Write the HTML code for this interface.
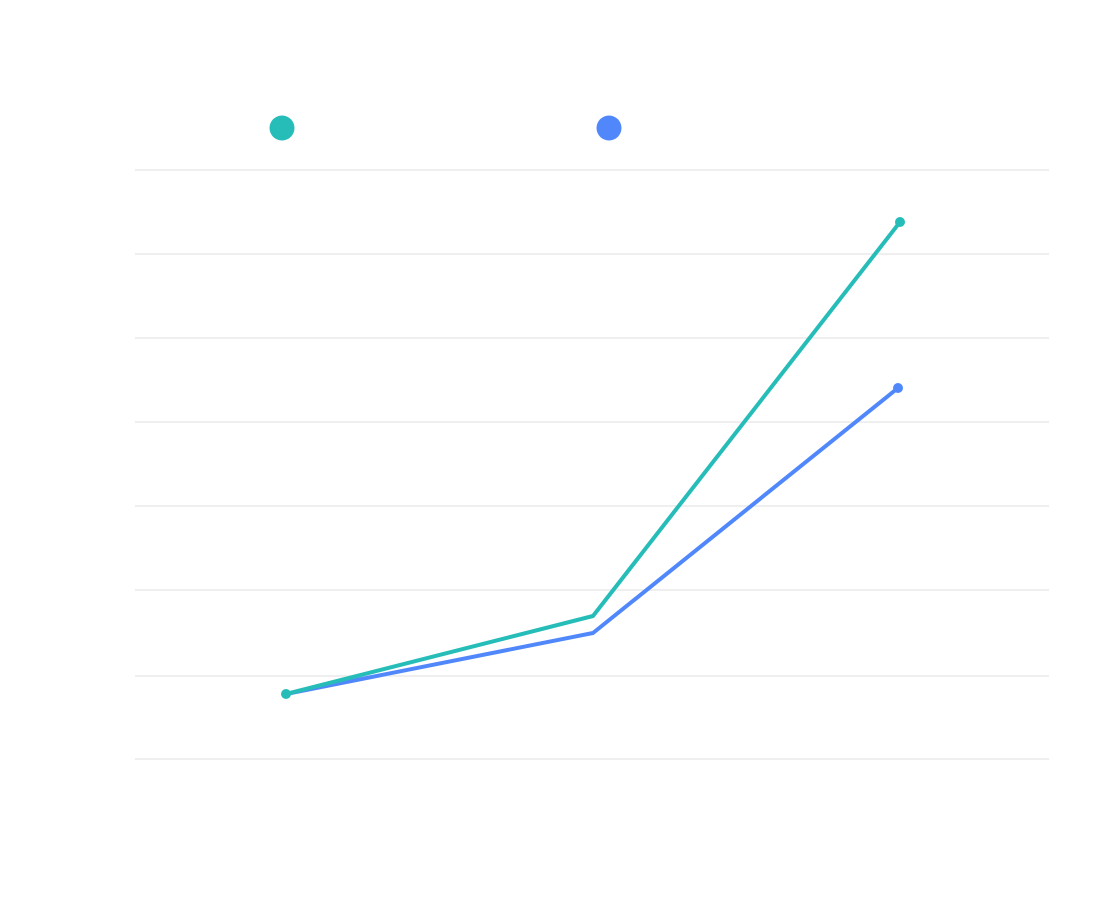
<!DOCTYPE html>
<html><head><meta charset="utf-8"><style>html,body{margin:0;padding:0;background:#fff;}svg{display:block;}</style></head>
<body>
<svg width="1100" height="900" viewBox="0 0 1100 900" xmlns="http://www.w3.org/2000/svg">
<g stroke="#efefef" stroke-width="2">
<line x1="135" y1="170" x2="1049" y2="170"/>
<line x1="135" y1="254" x2="1049" y2="254"/>
<line x1="135" y1="338" x2="1049" y2="338"/>
<line x1="135" y1="422" x2="1049" y2="422"/>
<line x1="135" y1="506" x2="1049" y2="506"/>
<line x1="135" y1="590" x2="1049" y2="590"/>
<line x1="135" y1="676" x2="1049" y2="676"/>
<line x1="135" y1="759" x2="1049" y2="759"/>
</g>
<circle cx="282" cy="128" r="12.5" fill="#26bdb9"/>
<circle cx="609" cy="128" r="12.5" fill="#5088fc"/>
<polyline points="286,694 593,633 898,388" fill="none" stroke="#5088fc" stroke-width="4" stroke-linejoin="round"/>
<polyline points="286,694 593,616 900,222" fill="none" stroke="#26bdb9" stroke-width="4" stroke-linejoin="round"/>
<circle cx="898" cy="388" r="5" fill="#5088fc"/>
<circle cx="900" cy="222" r="5" fill="#26bdb9"/>
<circle cx="286" cy="694" r="5" fill="#26bdb9"/>
</svg>
</body></html>
